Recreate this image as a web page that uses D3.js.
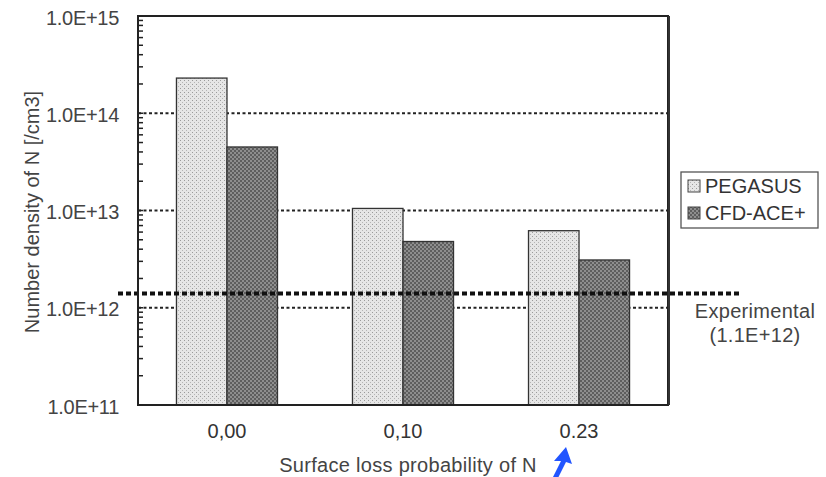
<!DOCTYPE html>
<html><head><meta charset="utf-8">
<script src="https://cdn.jsdelivr.net/npm/d3@7"></script>
<style>body{margin:0;background:#fff}svg{display:block}text{font-family:"Liberation Sans",Arial,sans-serif}</style>
</head><body><svg id="c" width="826" height="477"></svg>
<script>
const categories = ["0,00", "0,10", "0.23"];
const seriesNames = ["PEGASUS", "CFD-ACE+"];
const pegasus = [2.3e14, 1.05e13, 6.2e12];
const cfdAce = [4.5e13, 4.8e12, 3.1e12];
const experimental = 1.4e12;
const experimentalLabel = ["Experimental", "(1.1E+12)"];
const yTicks = [1e11, 1e12, 1e13, 1e14, 1e15];
const yTickLabels = ["1.0E+11", "1.0E+12", "1.0E+13", "1.0E+14", "1.0E+15"];
const gridValues = [1e12, 1e13, 1e14];

const svg = d3.select("#c");
const L = 138, R = 668, T = 16, B = 405;
const y = d3.scaleLog().domain([1e11, 1e15]).range([B, T]);
const x = d3.scaleBand().domain(categories).range([L, R]).paddingInner(0.426).paddingOuter(0.2185);
const xs = d3.scaleBand().domain(seriesNames).range([0, x.bandwidth()]);

const defs = svg.append("defs");
const p1 = defs.append("pattern").attr("id","pPeg").attr("patternUnits","userSpaceOnUse").attr("width",4).attr("height",4);
p1.append("rect").attr("width",4).attr("height",4).attr("fill","#e6e6e6");
p1.append("rect").attr("x",0).attr("y",0).attr("width",1).attr("height",1).attr("fill","#9a9a9a");
p1.append("rect").attr("x",2).attr("y",2).attr("width",1).attr("height",1).attr("fill","#b5b5b5");
const p2 = defs.append("pattern").attr("id","pCfd").attr("patternUnits","userSpaceOnUse").attr("width",4).attr("height",4);
p2.append("rect").attr("width",4).attr("height",4).attr("fill","#8e8e8e");
p2.append("rect").attr("x",0).attr("y",0).attr("width",2).attr("height",2).attr("fill","#5e5e5e");
p2.append("rect").attr("x",2).attr("y",2).attr("width",2).attr("height",2).attr("fill","#5e5e5e");
const fills = ["url(#pPeg)", "url(#pCfd)"];

// grid lines
svg.append("g").selectAll("line").data(gridValues).join("line")
  .attr("x1", L).attr("x2", R).attr("y1", d=>y(d)).attr("y2", d=>y(d))
  .attr("stroke","#222").attr("stroke-width",2).attr("stroke-dasharray","3,2.5");

// bars
const series = [pegasus, cfdAce];
series.forEach((vals, si) => {
  svg.append("g").selectAll("rect").data(vals).join("rect")
    .attr("x", (d,i)=> x(categories[i]) + xs(seriesNames[si]))
    .attr("width", xs.bandwidth())
    .attr("y", d=>y(d)).attr("height", d=> B - y(d))
    .attr("fill", fills[si]).attr("stroke","#333").attr("stroke-width",1.3);
});

// experimental line
svg.append("line").attr("x1",118).attr("x2",741).attr("y1",y(experimental)).attr("y2",y(experimental))
  .attr("stroke","#111").attr("stroke-width",4).attr("stroke-dasharray","5,3");

// frame
svg.append("rect").attr("x",L).attr("y",T).attr("width",R-L).attr("height",B-T)
  .attr("fill","none").attr("stroke","#222").attr("stroke-width",2);
svg.append("line").attr("x1",R+1).attr("x2",R+1).attr("y1",T).attr("y2",B).attr("stroke","#333").attr("stroke-width",2);

// y axis with minor ticks inside
const minor = [];
for (let e = 11; e < 15; e++) for (let m = 1; m <= 9; m++) minor.push(m * Math.pow(10, e));
minor.push(1e15);
svg.append("g").selectAll("line").data(minor).join("line")
  .attr("x1", L).attr("x2", L + 5).attr("y1", d=>y(d)).attr("y2", d=>y(d))
  .attr("stroke","#222").attr("stroke-width",1.5);

const yAxis = d3.axisLeft(y).tickValues(yTicks).tickSize(0).tickPadding(19)
  .tickFormat((d,i)=> yTickLabels[i]);
const gy = svg.append("g").attr("transform",`translate(${L},0)`).call(yAxis);
gy.select(".domain").remove();
gy.selectAll("text").attr("font-size",20).attr("fill","#444").attr("dy","0.4em").attr("letter-spacing","-0.3");

// x axis labels
const xAxis = d3.axisBottom(x).tickSize(0).tickPadding(19);
const gx = svg.append("g").attr("transform",`translate(0,${B})`).call(xAxis);
gx.select(".domain").remove();
gx.selectAll("text").attr("font-size",20).attr("fill","#333");

// axis titles
svg.append("text").attr("transform","translate(39,212) rotate(-90)").attr("text-anchor","middle")
  .attr("font-size",20).attr("fill","#444").text("Number density of N [/cm3]");
svg.append("text").attr("x",408).attr("y",472).attr("text-anchor","middle")
  .attr("font-size",20).attr("fill","#444").attr("letter-spacing","0.3").text("Surface loss probability of N");

// legend
const lg = svg.append("g");
lg.append("rect").attr("x",681).attr("y",172).attr("width",137).attr("height",56)
  .attr("fill","#fff").attr("stroke","#555").attr("stroke-width",1.3);
seriesNames.forEach((n,i)=>{
  const yy = 186 + i*27;
  lg.append("rect").attr("x",688).attr("y",yy-6).attr("width",12).attr("height",12)
    .attr("fill",fills[i]).attr("stroke","#444").attr("stroke-width",1);
  lg.append("text").attr("x",705).attr("y",yy+7).attr("font-size",20).attr("fill","#333").text(n);
});

// experimental label
experimentalLabel.forEach((t,i)=>{
  svg.append("text").attr("x",755).attr("y",318+i*24).attr("text-anchor","middle")
    .attr("font-size",20).attr("fill","#444").attr("letter-spacing","0.3").text(t);
});

// blue arrow annotation
svg.append("path").attr("d","M553,477 L561,461 L554,461 L566,447 L572,464 L566,462 L558,478 Z")
  .attr("fill","#2255ff");
</script></body></html>
